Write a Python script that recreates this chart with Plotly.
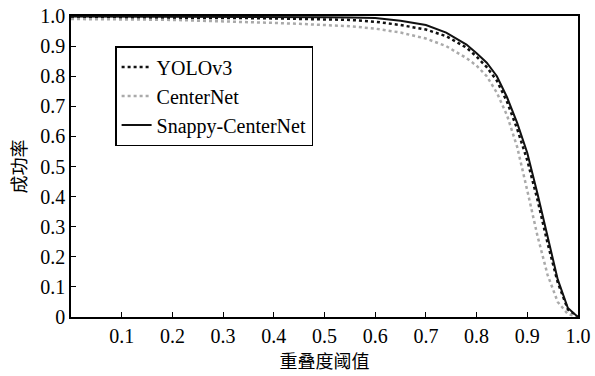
import plotly.graph_objects as go

# IoU thresholds
x_vals = [0.0, 0.05, 0.1, 0.15, 0.2, 0.25, 0.3, 0.35, 0.4, 0.45, 0.5, 0.55, 0.6, 0.65, 0.7, 0.74,
          0.78, 0.8, 0.82, 0.84, 0.86, 0.88, 0.9, 0.92, 0.94, 0.96, 0.98, 1.0]

yolo = [0.995, 0.995, 0.995, 0.995, 0.994, 0.994, 0.993, 0.993, 0.992, 0.991, 0.99, 0.987, 0.981,
        0.97, 0.955, 0.933, 0.895, 0.865, 0.83, 0.785, 0.715, 0.625, 0.52, 0.39, 0.245, 0.115, 0.025, 0.0]

centernet = [0.99, 0.99, 0.989, 0.988, 0.987, 0.985, 0.983, 0.98, 0.977, 0.974, 0.97, 0.966, 0.958,
             0.945, 0.925, 0.9, 0.86, 0.835, 0.8, 0.745, 0.67, 0.565, 0.42, 0.27, 0.14, 0.05, 0.01, 0.0]

snappy = [0.998, 0.998, 0.998, 0.998, 0.998, 0.998, 0.997, 0.997, 0.997, 0.996, 0.996, 0.995, 0.993,
          0.984, 0.97, 0.945, 0.905, 0.876, 0.845, 0.8, 0.73, 0.645, 0.545, 0.41, 0.265, 0.125, 0.03, 0.0]

x_tickvals = [0.1, 0.2, 0.3, 0.4, 0.5, 0.6, 0.7, 0.8, 0.9, 1.0]
x_ticktext = ["0.1", "0.2", "0.3", "0.4", "0.5", "0.6", "0.7", "0.8", "0.9", "1.0"]
y_tickvals = [0, 0.1, 0.2, 0.3, 0.4, 0.5, 0.6, 0.7, 0.8, 0.9, 1.0]
y_ticktext = ["0", "0.1", "0.2", "0.3", "0.4", "0.5", "0.6", "0.7", "0.8", "0.9", "1.0"]

serif = "Liberation Serif"
cjk = "Noto Sans CJK SC"

fig = go.Figure()
fig.add_trace(go.Scatter(x=x_vals, y=yolo, mode="lines", name="YOLOv3",
                         line=dict(color="#111111", width=2.5, dash="dot")))
fig.add_trace(go.Scatter(x=x_vals, y=centernet, mode="lines", name="CenterNet",
                         line=dict(color="#aaaaaa", width=2.5, dash="dot")))
fig.add_trace(go.Scatter(x=x_vals, y=snappy, mode="lines", name="Snappy-CenterNet",
                         line=dict(color="#111111", width=2)))

fig.update_layout(
    width=595, height=376,
    margin=dict(l=71, r=17, t=16, b=59),
    paper_bgcolor="white", plot_bgcolor="white",
    font=dict(family=serif, size=20, color="black"),
    showlegend=True,
    legend=dict(x=0.087, y=0.9, xanchor="left", yanchor="top",
                bordercolor="black", borderwidth=1.5, bgcolor="white",
                font=dict(family=serif, size=20, color="black"),
                tracegroupgap=0, itemwidth=30),
)
fig.update_xaxes(range=[0, 1], tickvals=x_tickvals, ticktext=x_ticktext,
                 tickfont=dict(family=serif, size=20, color="black"),
                 ticks="inside", ticklen=5, tickwidth=1.2, tickcolor="black",
                 showline=True, linecolor="black", linewidth=1.5, mirror=True,
                 showgrid=False, zeroline=False, automargin=False,
                 title=dict(text="重叠度阈值", font=dict(family=cjk, size=18, color="black"), standoff=7))
fig.update_yaxes(range=[0, 1], tickvals=y_tickvals, ticktext=y_ticktext,
                 tickfont=dict(family=serif, size=20, color="black"),
                 ticks="inside", ticklen=5, tickwidth=1.2, tickcolor="black",
                 showline=True, linecolor="black", linewidth=1.5, mirror=True,
                 showgrid=False, zeroline=False, automargin=False,
                 title=dict(text="成功率", font=dict(family=cjk, size=18, color="black"), standoff=9))

fig.write_html("out.html", config={"displayModeBar": False},
               post_script="document.body.style.margin='0';")
